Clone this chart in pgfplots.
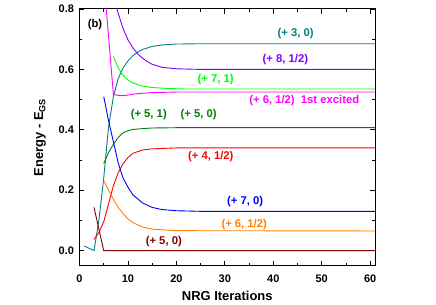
\documentclass[border=0pt]{standalone}
\usepackage{fontspec}
\setmainfont{Liberation Sans}
\usepackage{pgfplots}
\pgfplotsset{compat=1.18}
\definecolor{cteal}{RGB}{0,128,128}
\definecolor{cpurple}{RGB}{128,0,255}
\definecolor{clgreen}{RGB}{0,255,0}
\definecolor{cmag}{RGB}{255,0,255}
\definecolor{cdgreen}{RGB}{0,128,0}
\definecolor{cred}{RGB}{255,0,0}
\definecolor{cblue}{RGB}{0,0,255}
\definecolor{corange}{RGB}{255,128,0}
\definecolor{cbrown}{RGB}{128,0,0}
\tikzset{lblfont/.style={font=\bfseries\fontsize{11.3}{13}\selectfont}}
\begin{document}
\begin{tikzpicture}
\begin{axis}[
  scale only axis, width=295.5bp, height=256.7bp,
  xmin=0, xmax=61, ymin=-0.05, ymax=0.8,
  xtick={0,10,...,60}, ytick={0,0.2,0.4,0.6,0.8},
  minor x tick num=1, minor y tick num=1,
  tick align=inside,
  major tick length=5bp, minor tick length=3bp,
  axis line style={line width=1pt},
  every tick/.style={black, line width=0.8pt},
  yticklabel style={/pgf/number format/fixed, /pgf/number format/fixed zerofill, /pgf/number format/precision=1, xshift=-2bp},
  /pgf/number format/assume math mode=true,
  tick label style={font=\bfseries\fontsize{11}{13}\selectfont},
  xticklabel style={yshift=-6bp},
  xlabel={NRG Iterations}, ylabel={Energy - E\textsubscript{GS}},
  every axis x label/.style={at={(axis description cs:0.5,-0.1169)}, anchor=center, font=\bfseries\fontsize{13}{15}\selectfont},
  every axis y label/.style={at={(axis description cs:-0.1337,0.5)}, rotate=90, anchor=center, font=\bfseries\fontsize{13}{15}\selectfont},
  every axis plot/.append style={line width=0.9pt, no markers},
]
% (+3,0)
\addplot[cteal] coordinates {(1,0.015)(3,0.0)(4,0.1)(5,0.24)(6,0.41)(7,0.51)(8,0.57)(9,0.605)(10,0.628)(11,0.645)(12,0.657)(13,0.666)(15,0.676)(17,0.681)(20,0.684)(25,0.685)(61,0.685)};
% (+8,1/2)
\addplot[cpurple] coordinates {(7,0.84)(8,0.785)(9,0.735)(10,0.698)(11,0.672)(12,0.652)(13,0.637)(14,0.626)(15,0.617)(17,0.607)(20,0.602)(25,0.600)(61,0.600)};
% (+7,1)
\addplot[clgreen] coordinates {(7,0.643)(8,0.605)(9,0.58)(10,0.565)(11,0.555)(13,0.545)(15,0.54)(18,0.537)(22,0.535)(61,0.535)};
% (+6,1/2) 1st excited
\addplot[cmag] coordinates {(5,0.9)(7,0.517)(8,0.514)(9,0.513)(10,0.515)(11,0.518)(13,0.521)(15,0.523)(20,0.525)(61,0.525)};
% (+5,1),(+5,0)
\addplot[cdgreen] coordinates {(5,0.288)(6,0.325)(7,0.352)(8,0.375)(9,0.39)(10,0.397)(11,0.401)(13,0.404)(15,0.406)(20,0.407)(61,0.407)};
% (+4,1/2)
\addplot[cred] coordinates {(3,0.037)(4,0.06)(5,0.095)(6,0.155)(7,0.215)(8,0.258)(9,0.288)(10,0.308)(11,0.322)(13,0.333)(15,0.337)(20,0.34)(61,0.34)};
% (+7,0)
\addplot[cblue] coordinates {(5,0.51)(6,0.43)(7,0.36)(8,0.29)(9,0.24)(10,0.21)(11,0.185)(13,0.158)(15,0.143)(17,0.136)(20,0.132)(25,0.13)(61,0.13)};
% (+6,1/2)
\addplot[corange] coordinates {(5,0.232)(6,0.2)(7,0.17)(8,0.143)(9,0.122)(10,0.105)(11,0.093)(13,0.078)(15,0.071)(20,0.066)(61,0.065)};
% (+5,0)
\addplot[cbrown] coordinates {(3,0.143)(5,0.0)(61,0.0)};

\node[lblfont, cteal] at (axis cs:44.6,0.718) {(+ 3, 0)};
\node[lblfont, cpurple] at (axis cs:42.5,0.631) {(+ 8, 1/2)};
\node[lblfont, clgreen] at (axis cs:28.1,0.566) {(+ 7, 1)};
\node[lblfont, cmag] at (axis cs:46.4,0.496) {(+ 6, 1/2)\ \ 1st excited};
\node[lblfont, cdgreen] at (axis cs:14.3,0.449) {(+ 5, 1)};
\node[lblfont, cdgreen] at (axis cs:24.6,0.449) {(+ 5, 0)};
\node[lblfont, cred] at (axis cs:27.1,0.311) {(+ 4, 1/2)};
\node[lblfont, cblue] at (axis cs:34.2,0.161) {(+ 7, 0)};
\node[lblfont, corange] at (axis cs:34.0,0.087) {(+ 6, 1/2)};
\node[lblfont, cbrown] at (axis cs:17.4,0.029) {(+ 5, 0)};
\node[lblfont, black] at (axis cs:3.2,0.748) {(b)};
\end{axis}
\path (current axis.south west) ++(-79.5bp,-39.3bp) coordinate (bbA);
\path (current axis.north east) ++(61bp,9bp) coordinate (bbB);
\path (bbA) rectangle (bbB);
\end{tikzpicture}
\end{document}
